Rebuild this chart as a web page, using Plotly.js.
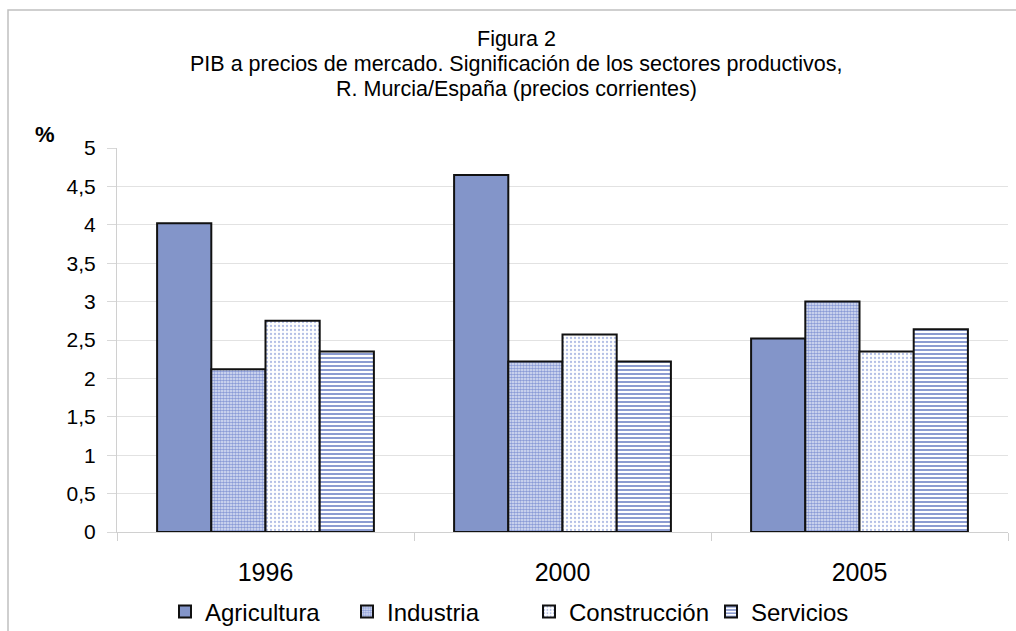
<!DOCTYPE html>
<html>
<head>
<meta charset="utf-8">
<script src="https://cdn.plot.ly/plotly-3.0.1.min.js"></script>
<style>html,body{margin:0;padding:0;background:#fff;}#chart{width:1016px;height:631px;}</style>
</head>
<body>
<div id="chart"></div>
<script>
const years = ["1996", "2000", "2005"];
const agricultura = [4.02, 4.65, 2.52];
const industria = [2.12, 2.22, 3.00];
const construccion = [2.75, 2.57, 2.35];
const servicios = [2.35, 2.22, 2.64];
const seriesNames = ["Agricultura", "Industria", "Construcción", "Servicios"];
const titleLines = ["Figura 2", "PIB a precios de mercado. Significación de los sectores productivos,", "R. Murcia/España (precios corrientes)"];

const blue = "#8395C9";
const outline = {color: "#111", width: 2};
const traces = [
  {type: "bar", name: seriesNames[0], x: years, y: agricultura,
   marker: {color: blue, line: outline}},
  {type: "bar", name: seriesNames[1], x: years, y: industria,
   marker: {color: "#ffffff", line: outline,
     pattern: {shape: ".", fgcolor: "#8a9bd6", bgcolor: "#e4e8f6", size: 3, solidity: 0.6, fillmode: "replace"}}},
  {type: "bar", name: seriesNames[2], x: years, y: construccion,
   marker: {color: "#ffffff", line: outline,
     pattern: {shape: ".", fgcolor: "#b3bfe6", bgcolor: "#ffffff", size: 4, solidity: 0.25, fillmode: "replace"}}},
  {type: "bar", name: seriesNames[3], x: years, y: servicios,
   marker: {color: "#ffffff", line: outline,
     pattern: {shape: "-", fgcolor: "#7f91cc", bgcolor: "#ffffff", size: 4, solidity: 0.45, fillmode: "replace"}}}
];

// pixel helpers (plot area: x 117..1008, y 148..532)
const px = v => (v - 117) / 891;
const py = v => (532 - v) / 384;

const titleY = [39, 64, 89];
const annotations = titleLines.map((t, i) => ({
  text: t, xref: "paper", yref: "paper", x: px(516), y: py(titleY[i]),
  xanchor: "center", yanchor: "middle", showarrow: false,
  font: {size: 21.5, color: "#000"}
}));
annotations.push({text: "<b>%</b>", xref: "paper", yref: "paper", x: px(45), y: py(134),
  showarrow: false, font: {size: 22, color: "#000"}, xanchor: "center", yanchor: "middle"});

const layout = {
  width: 1016, height: 631,
  margin: {l: 117, r: 8, t: 148, b: 99, autoexpand: false},
  paper_bgcolor: "#ffffff", plot_bgcolor: "#ffffff",
  separators: ",.",
  font: {family: "Liberation Sans, Arial, sans-serif", color: "#000"},
  barmode: "group", bargap: 0.27, bargroupgap: 0,
  showlegend: true,
  xaxis: {type: "category", tickson: "boundaries", ticks: "outside", ticklen: 8,
    tickcolor: "#d0d0d0", showline: true, linecolor: "#d0d0d0", linewidth: 1,
    showgrid: false, tickfont: {size: 25, color: "#000"}, automargin: false,
    ticklabelstandoff: 18},
  yaxis: {range: [0, 5], dtick: 0.5, tick0: 0, ticks: "outside", ticklen: 9,
    tickcolor: "#d8d8d8", showline: true, linecolor: "#d0d0d0", linewidth: 1,
    gridcolor: "#e2e2e2", gridwidth: 1, zeroline: false, automargin: false,
    tickfont: {size: 21, color: "#000"}, ticklabelstandoff: 7},
  legend: {orientation: "h", xref: "paper", x: px(165), xanchor: "left",
    yref: "paper", y: py(612), yanchor: "middle", font: {size: 24, color: "#000"},
    traceorder: "normal", entrywidthmode: "pixels", entrywidth: 137},
  annotations: annotations,
  shapes: [
    {type: "rect", xref: "paper", yref: "paper", x0: px(8), x1: 1.05, y0: -0.4, y1: py(10),
     line: {color: "#c0c0c0", width: 1.5}, fillcolor: "rgba(0,0,0,0)", layer: "below"}
  ]
};

Plotly.newPlot("chart", traces, layout, {displayModeBar: false, staticPlot: true});
</script>
</body>
</html>
